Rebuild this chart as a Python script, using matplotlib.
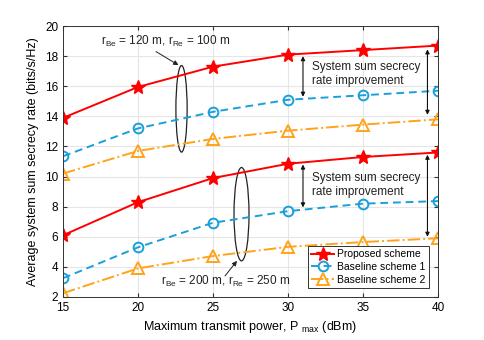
import matplotlib
matplotlib.use("Agg")
import matplotlib.pyplot as plt
from matplotlib.patches import Ellipse

plt.rcParams['font.family'] = ['Liberation Sans', 'DejaVu Sans']
plt.rcParams['mathtext.fontset'] = 'custom'
plt.rcParams['mathtext.rm'] = 'Liberation Sans'

# transmit power (dBm)
p_max = [15, 20, 25, 30, 35, 40]

# r_Be = 120 m, r_Re = 100 m
proposed_a = [13.9, 15.95, 17.3, 18.1, 18.4, 18.7]
baseline1_a = [11.35, 13.2, 14.3, 15.1, 15.4, 15.7]
baseline2_a = [10.2, 11.7, 12.5, 13.05, 13.45, 13.8]

# r_Be = 200 m, r_Re = 250 m
proposed_b = [6.1, 8.3, 9.9, 10.85, 11.3, 11.6]
baseline1_b = [3.25, 5.3, 6.93, 7.7, 8.2, 8.37]
baseline2_b = [2.25, 3.9, 4.72, 5.33, 5.65, 5.9]

red = '#ff0000'
blue = '#1a9fdb'
orange = '#ffa31a'

fig = plt.figure(figsize=(4.85, 3.4), dpi=100)
ax = fig.add_axes([0.13, 0.1265, 0.773, 0.797])


def draw_group(prop, b1, b2, label=True):
    ax.plot(p_max, prop, '-', color=red, lw=1.4, marker='*', ms=10,
            mfc=red, mec=red, label='Proposed scheme' if label else None)
    ax.plot(p_max, b1, '--', color=blue, lw=1.4, marker='o', ms=7,
            mfc='none', mew=1.4, dashes=(4, 2.5),
            label='Baseline scheme 1' if label else None)
    ax.plot(p_max, b2, '-.', color=orange, lw=1.4, marker='^', ms=8,
            mfc='none', mew=1.4, label='Baseline scheme 2' if label else None)


draw_group(proposed_a, baseline1_a, baseline2_a)
draw_group(proposed_b, baseline1_b, baseline2_b, label=False)

ax.set_xlim(15, 40)
ax.set_ylim(2, 20)
ax.set_xticks(p_max)
ax.set_yticks(range(2, 21, 2))
ax.grid(True, color='#e6e6e6', lw=0.8)
ax.set_axisbelow(True)
ax.tick_params(direction='in', top=True, right=True, labelsize=8.5,
               color='#333333', length=3)
for s in ax.spines.values():
    s.set_color('#333333')
    s.set_linewidth(0.7)

ax.set_xlabel('Maximum transmit power, P $_{\\mathrm{max}}$ (dBm)', fontsize=9)
ax.set_ylabel('Average system sum secrecy rate (bits/s/Hz)', fontsize=9)

# ellipses around groups
ax.add_patch(Ellipse((22.9, 14.5), 0.75, 5.75, fill=False, color='#222222', lw=0.9))
ax.add_patch(Ellipse((26.9, 7.5), 1.0, 6.2, fill=False, color='#222222', lw=0.9))

# group labels with pointer arrows
ptr_kw = dict(arrowstyle='-|>', color='#222222', lw=0.7,
              mutation_scale=7, shrinkA=0, shrinkB=0)
ax.text(17.5, 18.95, 'r$_{\\mathrm{Be}}$ = 120 m, r$_{\\mathrm{Re}}$ = 100 m',
        fontsize=8.5, va='center', ha='left', color='#222222')
ax.annotate('', xy=(22.7, 17.4), xytext=(21.2, 18.3), arrowprops=ptr_kw)
ax.text(21.5, 3.0, 'r$_{\\mathrm{Be}}$ = 200 m, r$_{\\mathrm{Re}}$ = 250 m',
        fontsize=8.5, va='center', ha='left', color='#222222')
ax.annotate('', xy=(26.6, 4.4), xytext=(25.8, 3.4), arrowprops=ptr_kw)

# improvement arrows
arrow_kw = dict(arrowstyle='<|-|>', color='#111111', lw=0.8,
                mutation_scale=6, shrinkA=0, shrinkB=0)
for x, y0, y1 in [(31.0, 18.0, 15.3), (39.3, 18.45, 14.1),
                  (31.0, 10.8, 7.95), (39.3, 11.45, 6.0)]:
    ax.annotate('', xy=(x, y1), xytext=(x, y0), arrowprops=arrow_kw)

ax.text(31.6, 16.8, 'System sum secrecy\nrate improvement', fontsize=8.5,
        va='center', ha='left', color='#222222', linespacing=1.2)
ax.text(31.6, 9.45, 'System sum secrecy\nrate improvement', fontsize=8.5,
        va='center', ha='left', color='#222222', linespacing=1.2)

leg = ax.legend(loc='lower right', fontsize=7.5, fancybox=False,
                framealpha=1, edgecolor='#333333', borderpad=0.3,
                labelspacing=0.25, handlelength=2.2, handletextpad=0.3,
                bbox_to_anchor=(0.99, 0.015))
leg.get_frame().set_linewidth(0.7)

fig.savefig('out.png', dpi=100)
